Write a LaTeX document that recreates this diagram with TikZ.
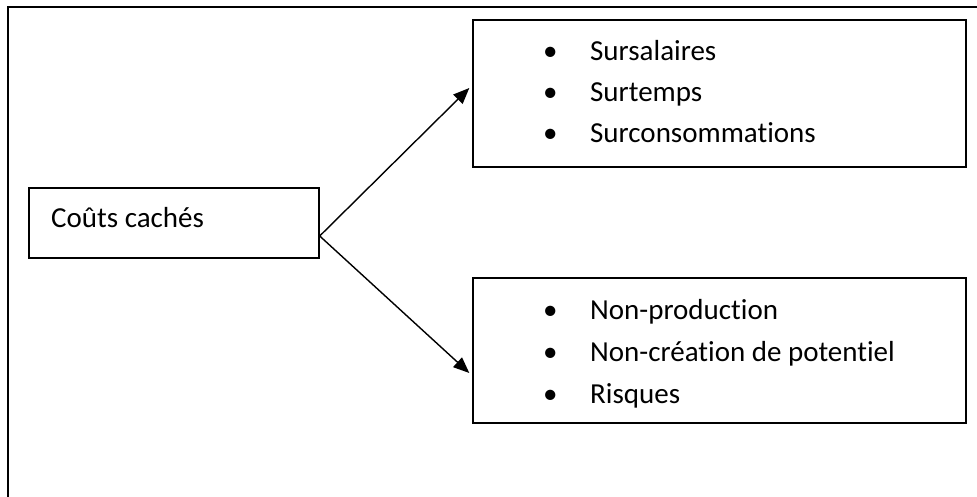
\documentclass[tikz,border=0pt]{standalone}
\usepackage{fontspec}
\setmainfont[Ligatures=NoCommon]{Carlito}
\usetikzlibrary{arrows.meta}

\tikzset{
  frame/.style={draw, line width=1.4pt, inner sep=0pt},
  item/.style={anchor=base west, inner sep=0pt, font=\fontsize{29}{35}\selectfont},
  arr/.style={line width=1.4pt, -{Triangle[length=16pt,width=13pt]}}
}
\newcommand{\puce}[1]{\makebox[47pt][l]{•}#1}

\begin{document}
\begin{tikzpicture}[x=1pt,y=-1pt]
    \clip (0,0) rectangle (977,496);
    \draw[line width=1.4pt] (8,530) -- (8,7) -- (1000,7);
    % boxes
    \node[frame, minimum width=290, minimum height=70] (couts) at (174,223) {};
    \node[frame, minimum width=493, minimum height=147] (sur) at (719.5,93.5) {};
    \node[frame, minimum width=493, minimum height=145] (non) at (719.5,350.5) {};
    % texts
    \node[item] (tcouts) at (51,227) {Coûts cachés};
    \node[item] (s1) at (543,60) {\puce{Sursalaires}};
    \node[item] (s2) at (543,101) {\puce{Surtemps}};
    \node[item] (s3) at (543,142) {\puce{Surconsommations}};
    \node[item] (n1) at (543,319) {\puce{Non-production}};
    \node[item] (n2) at (543,361) {\puce{Non-création de potentiel}};
    \node[item] (n3) at (543,403) {\puce{Risques}};
    % arrows
    \coordinate (fork) at (couts.east |- 0,236);
    \draw[arr] (fork) -- ([xshift=-3pt]sur.west |- 0,88);
    \draw[arr] (fork) -- ([xshift=-3pt]non.west |- 0,373);
\end{tikzpicture}
\end{document}
